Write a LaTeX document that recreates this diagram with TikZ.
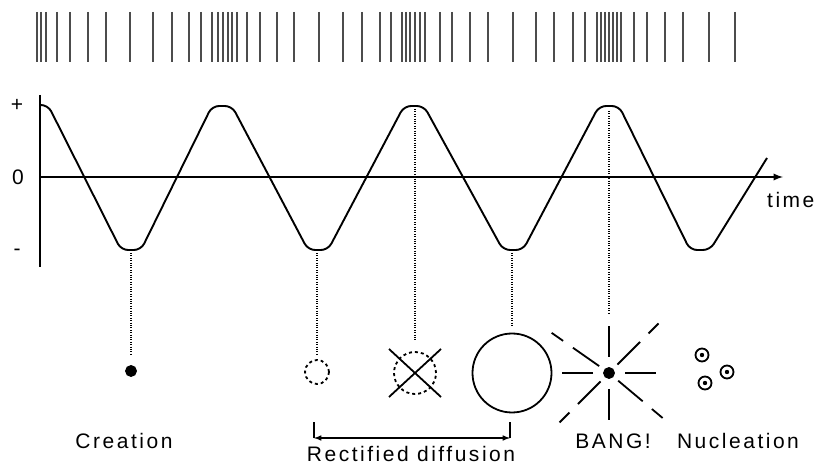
\documentclass[tikz,border=0pt]{standalone}
\usepackage{fontspec}
\setmainfont{Liberation Sans}[LetterSpace=12]

\tikzset{
  spike/.style={line width=1.9pt, black!70},
  axisline/.style={line width=2.2pt},
  wave/.style={line width=1.9pt, rounded corners=7pt},
  guide/.style={line width=1.6pt, dash pattern=on 1.1pt off 1.3pt},
  bubble/.style={circle, draw, line width=1.8pt, inner sep=0pt},
  ray/.style={line width=1.8pt},
  lbl/.style={font=\fontsize{21}{24}\selectfont, inner sep=0pt},
}

\begin{document}
\begin{tikzpicture}[x=1pt, y=-1pt, >=latex]
\useasboundingbox (0,0) rectangle (823,465);

% spike train
\foreach \s in {37,41,46,57,70,88,106,130,153,172,189,201,212,218,223,228,232,237,247,260,277,294,319,343,362,380,391,402,406,410,415,420,425,440,452,470,488,513,536,554,573,585,597,601,605,609,613,617,621,634,647,665,683,709,735}
  \draw[spike] (\s,12) -- (\s,62);

% axes
\coordinate (ytop) at (40,95); \coordinate (ybot) at (40,267);
\coordinate (o) at (40,177); \coordinate (tend) at (783,177);
\draw[axisline] (ytop) -- (ybot);
\draw[axisline,->] (o) -- (tend);
\node[lbl] (plus) at (17,105) {+};
\node[lbl] (zero) at (18,177) {0};
\node[lbl] (minus) at (17,252) {-};
\node[lbl, anchor=west] (time) at (767,200) {time};

% pressure wave
\draw[wave] (40,105) -- (48,105) -- (121,250) -- (141,250) -- (212,106) -- (232,106)
  -- (308,250) -- (328,250) -- (404,106) -- (424,106) -- (503,250) -- (523,250)
  -- (599,106) -- (619,106) -- (690,250) -- (710,250) -- (767,158);
\coordinate (t1) at (131,250); \coordinate (t2) at (317,250);
\coordinate (p2) at (415,106); \coordinate (t3) at (512,250);
\coordinate (p3) at (609,106);

% bubbles
\node[bubble, fill, minimum size=10] (creation) at (131,371) {};
\node[bubble, dashed, minimum size=24] (small) at (317,372) {};
\node[bubble, dashed, minimum size=42] (cross) at (415,373) {};
\node[bubble, minimum size=79] (big) at (512,373) {};
\node[bubble, fill, minimum size=10] (bang) at (609,373) {};
\draw[ray] (cross) ++(-26,-24) -- ++(52,48);
\draw[ray] (cross) ++(26,-24) -- ++(-52,48);
\foreach \a in {0,90,180,270}
  \draw[ray] (bang) ++(\a:16) -- ++(\a:31);
\foreach \a in {40,135,215,315}
{
  \draw[ray] (bang) ++(\a:12) -- ++(\a:32);
  \draw[ray] (bang) ++(\a:56) -- ++(\a:14);
}
\node[bubble, minimum size=13] (n1) at (702,355) {};
\node[bubble, minimum size=13] (n2) at (727,372) {};
\node[bubble, minimum size=13] (n3) at (705,383) {};
\foreach \n in {n1,n2,n3} \fill (\n) circle (2.2pt);

% guides
\draw[guide, shorten <=3pt, shorten >=9pt] (t1) -- (creation);
\draw[guide, shorten <=3pt, shorten >=3pt] (t2) -- (small);
\draw[guide, shorten <=3pt, shorten >=10pt] (p2) -- (cross);
\draw[guide, shorten <=3pt, shorten >=6pt] (t3) -- (big);
\draw[guide, shorten <=5pt, shorten >=53pt] (p3) -- (bang);

% rectified diffusion bracket
\coordinate (rdl) at (314,438); \coordinate (rdr) at (510,438);
\draw[line width=1.5pt, <->] (rdl) -- (rdr);
\draw[line width=1.5pt] (rdl) -- ++(0,-16);
\draw[line width=1.5pt] (rdr) -- ++(0,-16);

% labels
\node[lbl] (lcreation) at (124,441) {Creation};
\node[lbl] (lrect) at (411,454) {Rectified diffusion};
\node[lbl] (lbang) at (613,441) {BANG!};
\node[lbl] (lnuc) at (738,441) {Nucleation};

\end{tikzpicture}
\end{document}
